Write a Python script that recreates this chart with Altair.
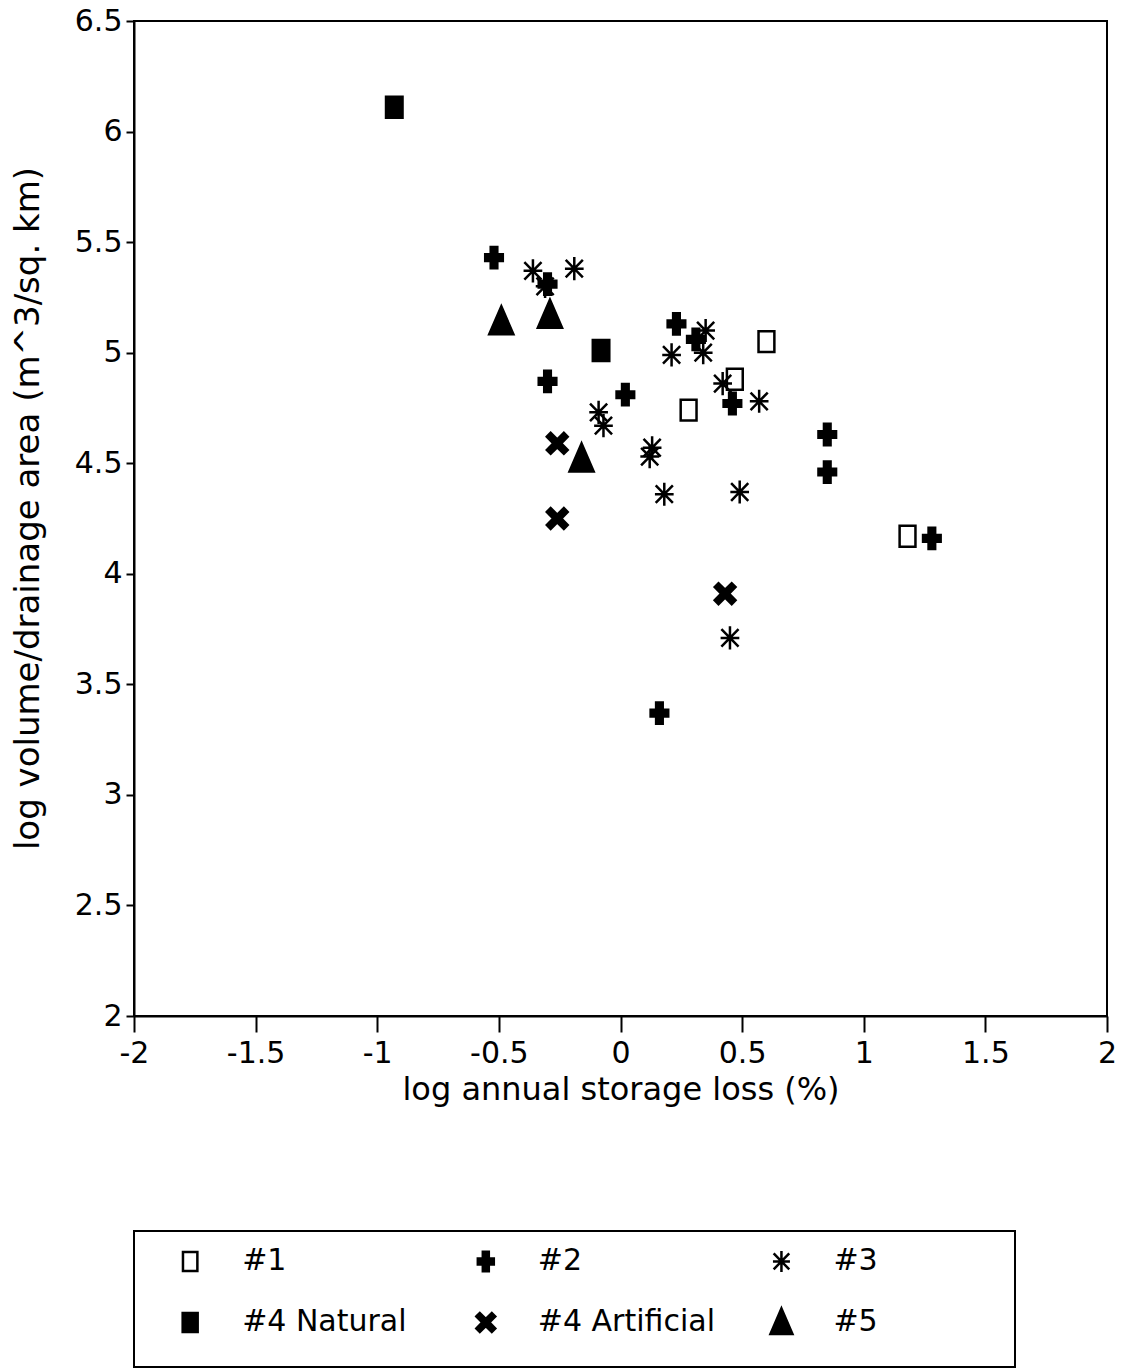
import altair as alt
import pandas as pd

FONT = "DejaVu Sans"

series_names = ["#1", "#2", "#3", "#4 Natural", "#4 Artificial", "#5"]

s1_x = [0.60, 0.47, 0.28, 1.18]
s1_y = [5.05, 4.88, 4.74, 4.17]

s2_x = [-0.52, -0.30, -0.30, 0.02, 0.23, 0.31, 0.46, 0.85, 0.85, 1.28, 0.16]
s2_y = [5.43, 5.31, 4.87, 4.81, 5.13, 5.06, 4.77, 4.63, 4.46, 4.16, 3.37]

s3_x = [-0.36, -0.19, -0.31, -0.09, -0.07, 0.13, 0.12, 0.18, 0.21, 0.35, 0.34, 0.42, 0.57, 0.49, 0.45]
s3_y = [5.37, 5.38, 5.30, 4.73, 4.67, 4.57, 4.53, 4.36, 4.99, 5.10, 5.00, 4.86, 4.78, 4.37, 3.71]

s4n_x = [-0.93, -0.08]
s4n_y = [6.11, 5.01]

s4a_x = [-0.26, -0.26, 0.43]
s4a_y = [4.59, 4.25, 3.91]

s5_x = [-0.49, -0.29, -0.16]
s5_y = [5.14, 5.17, 4.52]

x_ticks = [-2, -1.5, -1, -0.5, 0, 0.5, 1, 1.5, 2]
y_ticks = [2, 2.5, 3, 3.5, 4, 4.5, 5, 5.5, 6, 6.5]

rows = []
for name, xs, ys in zip(series_names,
                        [s1_x, s2_x, s3_x, s4n_x, s4a_x, s5_x],
                        [s1_y, s2_y, s3_y, s4n_y, s4a_y, s5_y]):
    for xv, yv in zip(xs, ys):
        rows.append({"series": name, "x": xv, "y": yv})
df = pd.DataFrame(rows)

shape_paths = [
    "M-0.72,-0.95H0.72V0.95H-0.72Z",
    "M-0.3,-0.97H0.3V-0.3H0.8V0.3H0.3V0.97H-0.3V0.3H-0.8V-0.3H-0.3Z",
    "M0,-1.05V1.05M-0.85,0H0.85M-0.78,-0.8L0.78,0.8M-0.78,0.8L0.78,-0.8",
    "M-0.75,-0.95H0.75V0.95H-0.75Z",
    "M-0.95,-0.6L-0.6,-0.95L0,-0.36L0.6,-0.95L0.95,-0.6L0.36,0L0.95,0.6L0.6,0.95L0,0.36L-0.6,0.95L-0.95,0.6L-0.36,0Z",
    "M0,-1.4L1.1,1.15H-1.1Z",
]
fill_colors = ["white", "black", "black", "black", "black", "black"]

shape_scale = alt.Scale(domain=series_names, range=shape_paths)
fill_scale = alt.Scale(domain=series_names, range=fill_colors)

scatter = alt.Chart(df).mark_point(
    size=484, stroke="black", strokeWidth=2.5, opacity=1
).encode(
    x=alt.X("x:Q",
            scale=alt.Scale(domain=[-2, 2], nice=False, zero=False),
            axis=alt.Axis(values=x_ticks, title="log annual storage loss (%)",
                          labelExpr="'' + datum.value", tickSize=16,
                          labelPadding=6, titlePadding=6, labelFlush=False)),
    y=alt.Y("y:Q",
            scale=alt.Scale(domain=[2, 6.5], nice=False, zero=False),
            axis=alt.Axis(values=y_ticks, title="log volume/drainage area (m^3/sq. km)",
                          labelExpr="'' + datum.value", tickSize=8,
                          labelPadding=4, titlePadding=29, titleFontSize=34,
                          titleY=487, labelFlush=False)),
    shape=alt.Shape("series:N", scale=shape_scale, legend=None),
    fill=alt.Fill("series:N", scale=fill_scale, legend=None),
).properties(width=973, height=995)

legend_df = pd.DataFrame({"series": series_names})
legend_base = alt.Chart(legend_df).transform_window(
    idx="row_number()"
).transform_calculate(
    col="(datum.idx - 1) % 3",
    row="floor((datum.idx - 1) / 3)",
)
lx = alt.X("col:Q", scale=alt.Scale(domain=[-0.19, 2.79], nice=False, zero=False), axis=None)
ly = alt.Y("row:Q", scale=alt.Scale(domain=[-0.5, 1.73], nice=False, zero=False, reverse=True), axis=None)

leg_sym = legend_base.mark_point(
    size=400, stroke="black", strokeWidth=2.5, opacity=1
).encode(
    x=lx, y=ly,
    shape=alt.Shape("series:N", scale=shape_scale, legend=None),
    fill=alt.Fill("series:N", scale=fill_scale, legend=None),
)
leg_txt = legend_base.mark_text(
    align="left", baseline="middle", dx=52, font=FONT, fontSize=30, color="black"
).encode(x=lx, y=ly, text="series:N")

legend = alt.layer(leg_sym, leg_txt).properties(width=881, height=136)

chart = alt.vconcat(scatter, legend, spacing=124).properties(
    padding={"left": 10, "top": 5, "right": 5, "bottom": 0}
).configure(
    background="white"
).configure_view(
    stroke="black", strokeWidth=2
).configure_axis(
    grid=False, domainColor="black", domainWidth=2, tickColor="black", tickWidth=2,
    labelFont=FONT, labelFontSize=30, labelColor="black",
    titleFont=FONT, titleFontSize=32, titleFontWeight="normal", titleColor="black",
)

chart.save("out.html", embed_options={"renderer": "svg", "actions": False})
